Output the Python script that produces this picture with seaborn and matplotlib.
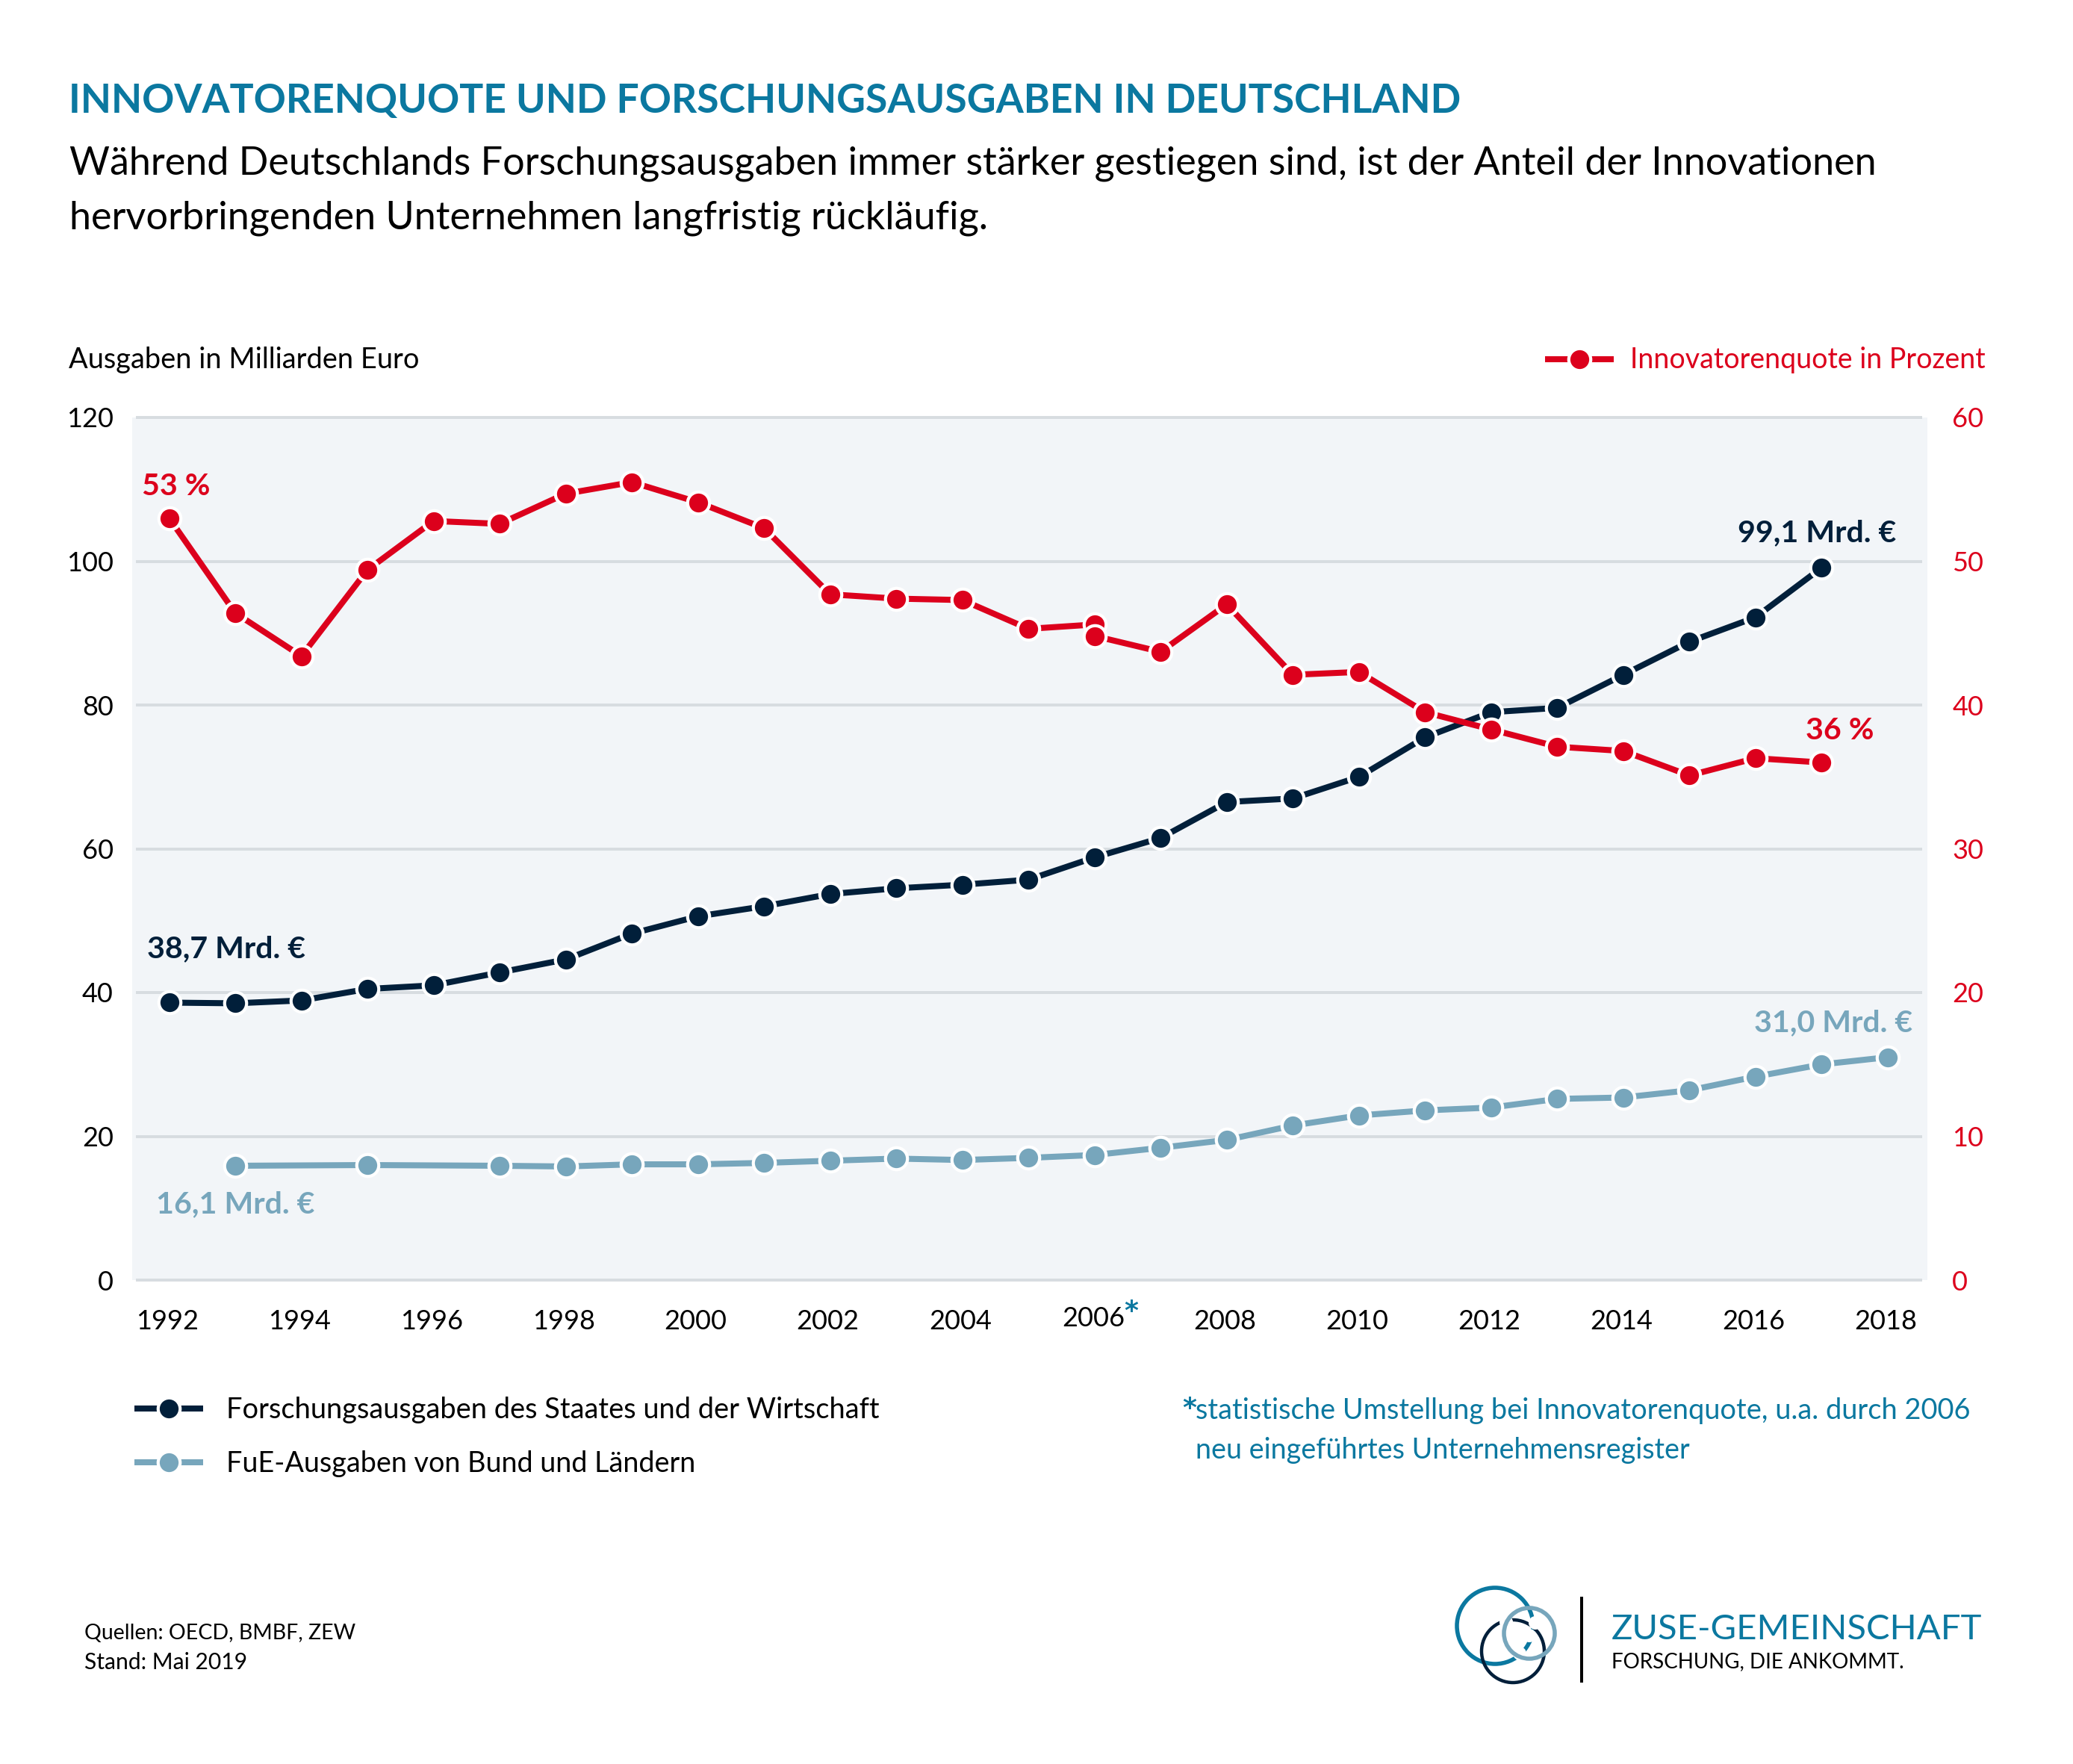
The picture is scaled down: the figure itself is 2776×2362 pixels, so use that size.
import matplotlib
matplotlib.use("Agg")
import matplotlib.pyplot as plt
from matplotlib.lines import Line2D
from matplotlib.patches import Ellipse, Rectangle
from matplotlib.transforms import ScaledTranslation
import pandas as pd
import seaborn as sns

W, H = 2776, 2362
BLUE, RED, NAVY, LIGHT = "#0b78a0", "#dc001c", "#011f3a", "#77a6bc"
PANEL, GRID = "#f2f5f8", "#d7dce0"

years_spending = list(range(1992, 2018))
spending = [38.6, 38.5, 38.9, 40.5, 41.0, 42.8, 44.6, 48.2, 50.6, 52.0, 53.7, 54.5, 55.0,
            55.7, 58.8, 61.5, 66.5, 67.0, 70.0, 75.5, 79.0, 79.6, 84.2, 88.8, 92.2, 99.1]
years_federal = [1993, 1995, 1997, 1998, 1999, 2000, 2001, 2002, 2003, 2004, 2005, 2006,
                 2007, 2008, 2009, 2010, 2011, 2012, 2013, 2014, 2015, 2016, 2017, 2018]
federal = [15.9, 16.0, 15.9, 15.8, 16.1, 16.1, 16.3, 16.6, 16.9, 16.7, 17.0, 17.4,
           18.4, 19.5, 21.5, 22.9, 23.6, 24.0, 25.2, 25.4, 26.4, 28.3, 30.0, 31.0]
years_quota_old = list(range(1992, 2007))
quota_old = [53.0, 46.4, 43.4, 49.4, 52.8, 52.6, 54.7, 55.5, 54.1, 52.3, 47.7, 47.4, 47.3, 45.3, 45.6]
years_quota_new = list(range(2006, 2018))
quota_new = [44.8, 43.7, 47.0, 42.1, 42.3, 39.5, 38.3, 37.1, 36.8, 35.1, 36.3, 36.0]

left_ticks = [0, 20, 40, 60, 80, 100, 120]
right_ticks = [0, 10, 20, 30, 40, 50, 60]
year_ticks = list(range(1992, 2020, 2))
year_labels = ["" if y == 2006 else str(y) for y in year_ticks]

sns.set_theme(style="white")
plt.rcParams["font.family"] = ["Lato", "DejaVu Sans"]
fig = plt.figure(figsize=(W / 200, H / 200), dpi=200, facecolor="white")

def fx(x): return x / W
def fy(y): return 1 - y / H
def label(x, y, s, size, color="black", weight="normal", ha="left", va="center", **kw):
    fig.text(fx(x), fy(y), s, fontsize=size, color=color, fontweight=weight, ha=ha, va=va, **kw)

ax = fig.add_axes([fx(177), fy(1714), (2581 - 177) / W, (1714 - 559) / H], facecolor=PANEL)
ax.set_xlim(1991.44, 2018.6)
ax.set_ylim(0, 120)
ax.hlines(left_ticks, 1991.5, 2018.52, color=GRID, lw=1.4, clip_on=False, zorder=1)

style = dict(marker="o", markersize=10.6, markeredgecolor="white", markeredgewidth=1.5,
             linewidth=2.9, errorbar=None, legend=False, zorder=3)
sns.lineplot(data=pd.DataFrame({"x": years_spending, "y": spending}), x="x", y="y", ax=ax, color=NAVY, **style)
sns.lineplot(data=pd.DataFrame({"x": years_federal, "y": federal}), x="x", y="y", ax=ax, color=LIGHT, **style)

ax2 = ax.twinx()
ax2.set_ylim(0, 60)
sns.lineplot(data=pd.DataFrame({"x": years_quota_old, "y": quota_old}), x="x", y="y", ax=ax2, color=RED, **style)
sns.lineplot(data=pd.DataFrame({"x": years_quota_new, "y": quota_new}), x="x", y="y", ax=ax2, color=RED, **style)

for a in (ax, ax2):
    a.set_xlabel(""); a.set_ylabel("")
    for s in a.spines.values():
        s.set_visible(False)
ax.set_xticks(year_ticks, year_labels)
ax.set_yticks(left_ticks)
ax2.set_yticks(right_ticks)
ax.tick_params(axis="x", length=0, pad=14, labelsize=13, labelcolor="black")
ax.tick_params(axis="y", length=0, pad=9, labelsize=13, labelcolor="black")
ax2.tick_params(axis="y", length=0, pad=12, labelsize=13, labelcolor=RED)
shift = ScaledTranslation(-3 / 200, 0, fig.dpi_scale_trans)
for t in ax.get_xticklabels():
    t.set_transform(t.get_transform() + shift)

label(92, 135, "INNOVATORENQUOTE UND FORSCHUNGSAUSGABEN IN DEUTSCHLAND", 19.25, BLUE, "bold")
label(93, 219, "Während Deutschlands Forschungsausgaben immer stärker gestiegen sind, ist der Anteil der Innovationen", 18.75)
label(93, 292, "hervorbringenden Unternehmen langfristig rückläufig.", 18.8)
label(92, 482, "Ausgaben in Milliarden Euro", 13.7)
label(2183, 482, "Innovatorenquote in Prozent", 13.5, RED)
label(303, 1888, "Forschungsausgaben des Staates und der Wirtschaft", 13.7)
label(303, 1960, "FuE-Ausgaben von Bund und Ländern", 13.6)
label(1583, 1886, "*", 13, BLUE, "bold", family=["DejaVu Sans"])
label(1601, 1889, "statistische Umstellung bei Innovatorenquote, u.a. durch 2006", 13.7, BLUE)
label(1601, 1942, "neu eingeführtes Unternehmensregister", 13.6, BLUE)
label(113, 2187, "Quellen: OECD, BMBF, ZEW", 10.25)
label(113, 2226, "Stand: Mai 2019", 10.8)
label(1464, 1766, "2006", 13, ha="center")
label(1505, 1756, "*", 13, BLUE, "bold", family=["DejaVu Sans"])

label(190, 652, "53 %", 14.8, RED, "bold")
label(2418, 979, "36 %", 14.8, RED, "bold")
label(2327, 714, "99,1 Mrd. €", 14.8, NAVY, "bold")
label(197, 1271, "38,7 Mrd. €", 14.8, NAVY, "bold")
label(2349, 1370, "31,0 Mrd. €", 14.8, LIGHT, "bold")
label(209, 1613, "16,1 Mrd. €", 14.8, LIGHT, "bold")

def legend_key(x0, x1, y, color):
    fig.add_artist(Line2D([fx(x0), fx(x1)], [fy(y), fy(y)], color=color, lw=2.9, solid_capstyle="butt"))
    fig.add_artist(Line2D([fx((x0 + x1) / 2)], [fy(y)], marker="o", ms=10.6, mfc=color,
                          mec="white", mew=1.5, ls=""))
legend_key(2069, 2161, 481, RED)
legend_key(180, 272, 1886, NAVY)
legend_key(180, 272, 1958, LIGHT)

# logo
def ring(cx, cy, d, color, lw):
    fig.add_artist(Ellipse((fx(cx), fy(cy)), d / W, d / H, fill=False, ec=color, lw=lw,
                           transform=fig.transFigure))
def gap(cx, cy, d):
    fig.add_artist(Ellipse((fx(cx), fy(cy)), d / W, d / H, fc="white", ec="none",
                           transform=fig.transFigure))
ring(2002, 2177, 102, BLUE, 2.0)
ring(2026, 2211, 84, NAVY, 1.6)
for cx, cy in [(2017, 2172), (2056, 2173), (2035, 2214), (2048, 2190)]:
    gap(cx, cy, 18)
ring(2048, 2187, 68, LIGHT, 2.0)
fig.add_artist(Rectangle((fx(2116), fy(2253)), 4 / W, 115 / H, fc="black", ec="none", transform=fig.transFigure))
label(2158, 2195, "ZUSE-GEMEINSCHAFT", 17, BLUE, va="baseline")
label(2158, 2233, "FORSCHUNG, DIE ANKOMMT.", 10, "black", va="baseline")

fig.savefig("out.png", dpi=200, facecolor="white")
